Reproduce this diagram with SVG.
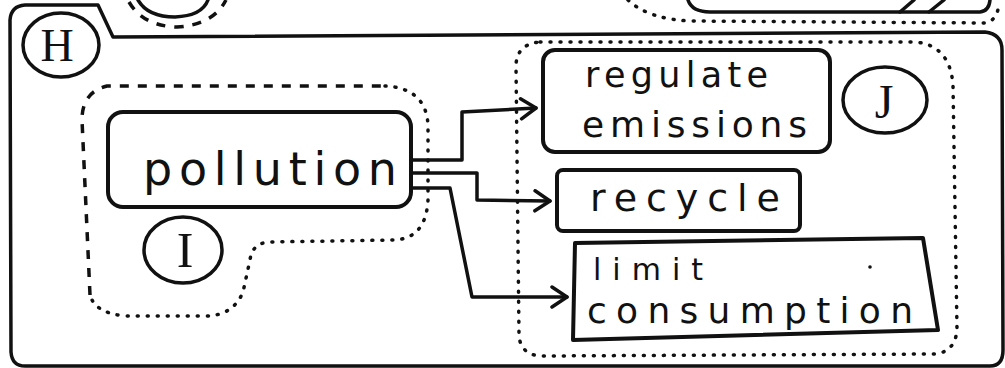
<svg xmlns="http://www.w3.org/2000/svg" width="1005" height="368" viewBox="0 0 1005 368">
  <style>
    .ln{fill:none;stroke:#111;stroke-width:3.5;stroke-linecap:round;stroke-linejoin:round}
    .box{fill:none;stroke:#111;stroke-width:4;stroke-linejoin:round}
    .dash{fill:none;stroke:#111;stroke-width:3.5;stroke-dasharray:9 9;stroke-linecap:butt}
    .dot{fill:none;stroke:#111;stroke-width:3.5;stroke-dasharray:1 9;stroke-linecap:round}
    .lbl{font-family:"DejaVu Sans","Liberation Sans",sans-serif;fill:#111}
    .tag{font-family:"Liberation Serif","DejaVu Serif",serif;fill:#111;text-anchor:middle}
  </style>
  <defs>
    <marker id="arr" viewBox="0 0 20 24" refX="18" refY="12" markerWidth="20" markerHeight="24" markerUnits="userSpaceOnUse" orient="auto">
      <path d="M3,2 L18,12 L3,22" fill="none" stroke="#111" stroke-width="3.5" stroke-linecap="round" stroke-linejoin="round"/>
    </marker>
  </defs>
  <rect width="1005" height="368" fill="#fff"/>

  <!-- fragments of shapes cut off at the top -->
  <g id="top-fragments">
    <path class="ln" d="M138 0 Q148 17 175 17 Q202 16 208 0"/>
    <path class="dash" d="M129 2 Q143 26 177 27 Q213 25 226 0"/>
    <path class="ln" d="M688 0 Q692 12 710 12 L980 12 Q989 11 990 0"/>
    <path class="ln" d="M900 12 L914 0 M929 12 L944 0"/>
    <path class="dot" d="M628 0 Q648 19 690 21 L985 23 Q997 21 999 4"/>
  </g>

  <!-- H frame -->
  <g id="H">
    <path class="ln" d="M11 352 L10 20 Q11 6 25 5 L98 5 L113 37 L985 32 Q1002 34 1002 50 L1003 350 Q1003 366 990 366 L25 366 Q12 366 11 352 Z"/>
    <ellipse class="ln" cx="61" cy="45" rx="38" ry="32"/>
    <text class="tag" x="57" y="61" font-size="46">H</text>
  </g>

  <!-- I group -->
  <g id="I">
    <path class="dash" d="M90 295 L82 120 Q82 92 107 86 L385 86"/>
    <path class="dot" d="M385 86 Q426 88 428 125 L428 200 Q426 238 395 240 L268 242 Q252 244 250 260 L243 292 Q233 316 205 316 L125 316 Q95 313 90 295"/>
    <ellipse class="ln" cx="183" cy="250" rx="39" ry="33"/>
    <text class="tag" x="185" y="267" font-size="50">I</text>
  </g>

  <g id="pollution">
    <rect class="box" x="108" y="112" width="303" height="95" rx="15"/>
    <text class="lbl" x="143" y="185" font-size="46" textLength="254" lengthAdjust="spacing">pollution</text>
  </g>

  <!-- J group -->
  <g id="J">
    <path class="dot" d="M540 42 L915 42 Q950 45 953 85 L957 330 Q955 352 935 354 L540 356 Q520 354 519 335 L516 65 Q517 44 540 42 Z"/>
    <ellipse class="ln" cx="885" cy="100" rx="42" ry="33"/>
    <text class="tag" x="884" y="118" font-size="48">J</text>
  </g>

  <g id="regulate-emissions">
    <rect class="box" x="543" y="50" width="287" height="102" rx="12"/>
    <text class="lbl" x="585" y="87" font-size="35" textLength="183" lengthAdjust="spacing">regulate</text>
    <text class="lbl" x="582" y="137" font-size="36" textLength="225" lengthAdjust="spacing">emissions</text>
  </g>

  <g id="recycle">
    <rect class="box" x="557" y="170" width="243" height="61" rx="6"/>
    <text class="lbl" x="590" y="211" font-size="38" textLength="190" lengthAdjust="spacing">recycle</text>
  </g>

  <g id="limit-consumption">
    <path class="box" d="M575 243 L923 238 L938 330 L573 340 Z"/>
    <text class="lbl" x="593" y="280" font-size="30" textLength="110" lengthAdjust="spacing">limit</text>
    <text class="lbl" x="587" y="323" font-size="36" textLength="326" lengthAdjust="spacing">consumption</text>
    <circle cx="870" cy="267" r="1.8" fill="#111"/>
  </g>

  <g id="connectors">
    <path class="ln" d="M411 160 L462 160 L462 112 L536 108" marker-end="url(#arr)"/>
    <path class="ln" d="M411 173 L477 173 L477 200 L550 201" marker-end="url(#arr)"/>
    <path class="ln" d="M411 188 L450 188 L472 297 L567 297" marker-end="url(#arr)"/>
  </g>
</svg>
